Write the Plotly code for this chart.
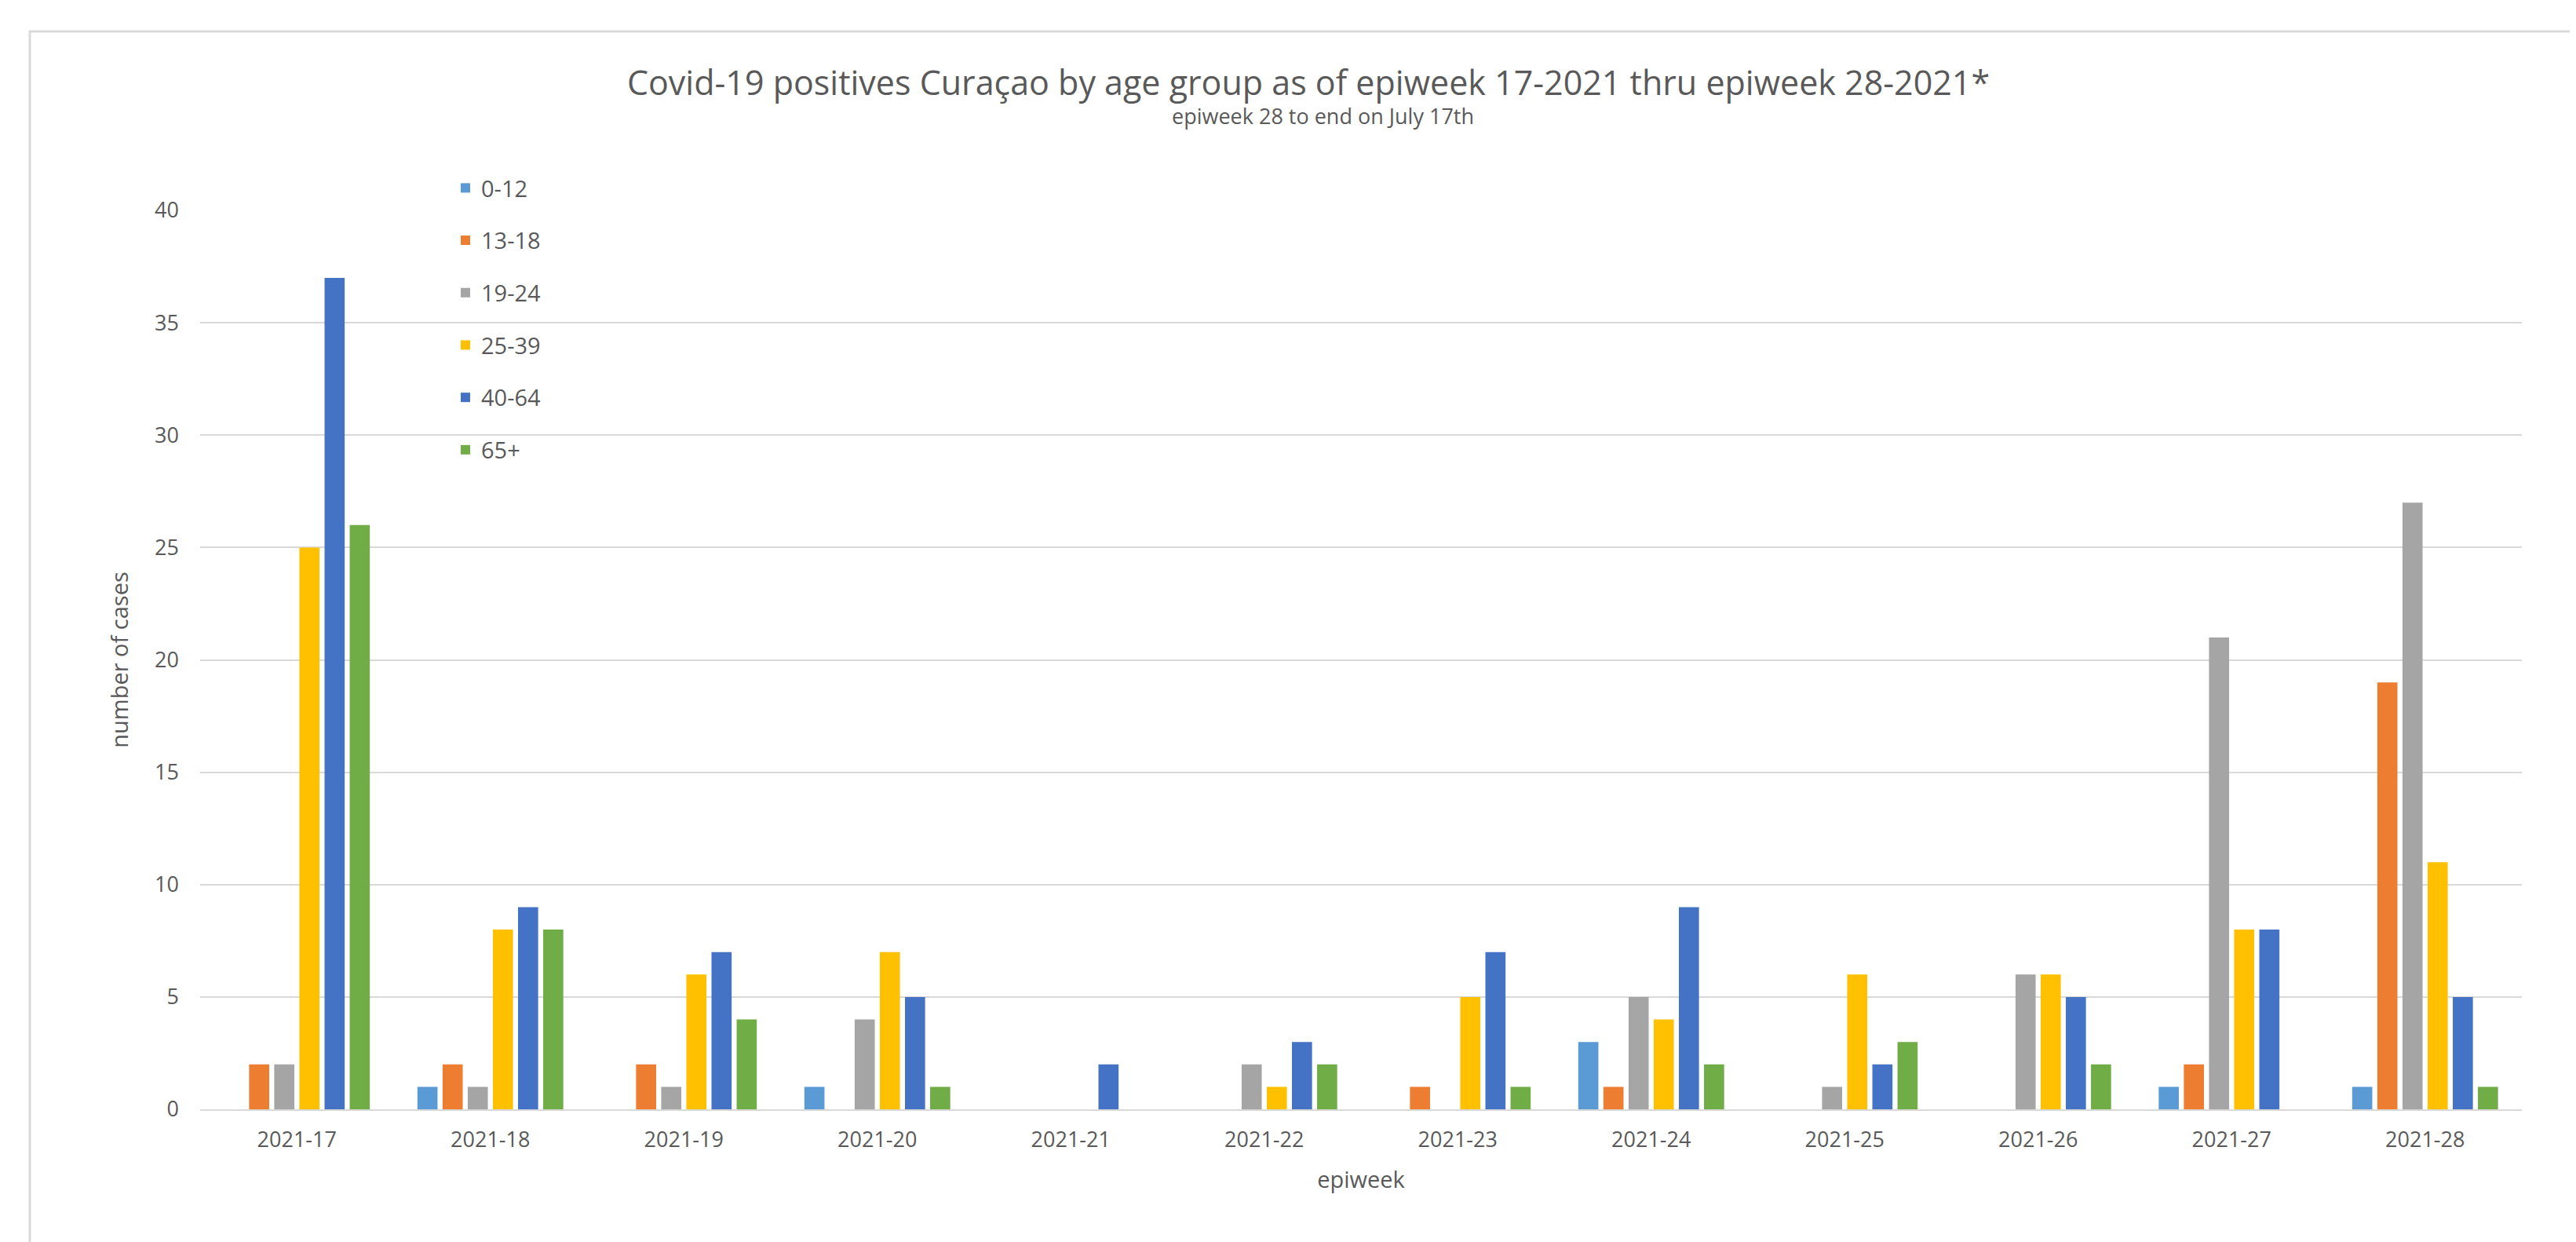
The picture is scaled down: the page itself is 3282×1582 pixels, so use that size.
import plotly.graph_objects as go

weeks = ["2021-17", "2021-18", "2021-19", "2021-20", "2021-21", "2021-22",
         "2021-23", "2021-24", "2021-25", "2021-26", "2021-27", "2021-28"]
age_groups = ["0-12", "13-18", "19-24", "25-39", "40-64", "65+"]
cases_0_12 = [0, 1, 0, 1, 0, 0, 0, 3, 0, 0, 1, 1]
cases_13_18 = [2, 2, 2, 0, 0, 0, 1, 1, 0, 0, 2, 19]
cases_19_24 = [2, 1, 1, 4, 0, 2, 0, 5, 1, 6, 21, 27]
cases_25_39 = [25, 8, 6, 7, 0, 1, 5, 4, 6, 6, 8, 11]
cases_40_64 = [37, 9, 7, 5, 2, 3, 7, 9, 2, 5, 8, 5]
cases_65p = [26, 8, 4, 1, 0, 2, 1, 2, 3, 2, 0, 1]
colors = ["#5B9BD5", "#ED7D31", "#A5A5A5", "#FFC000", "#4472C4", "#70AD47"]
y_ticks = [0, 5, 10, 15, 20, 25, 30, 35, 40]

series = [cases_0_12, cases_13_18, cases_19_24, cases_25_39, cases_40_64, cases_65p]

W, H = 3282, 1582
L, R, T, B = 247, 77, 260, 177
FONT = "Open Sans"
TXT = "#595959"

fig = go.Figure()
for i, (name, vals) in enumerate(zip(age_groups, series)):
    fig.add_trace(go.Bar(x=weeks, y=vals, name=name, marker_color=colors[i],
                         marker_line_width=0, legendgroup=name))

pw = W - L - R
ph = H - T - B
def px_x(p):
    return (p - L) / pw
def px_y(p):
    return (H - B - p) / ph

fig.update_layout(
    width=W, height=H, autosize=False,
    margin=dict(l=L, r=R, t=T, b=B),
    paper_bgcolor="white", plot_bgcolor="white",
    font=dict(family=FONT, color=TXT),
    barmode="group", bargap=0.22, bargroupgap=0.2,
    title=dict(text="Covid-19 positives Curaçao by age group as of epiweek 17-2021 thru epiweek 28-2021*",
               x=1659 / W, xanchor="center", xref="container", y=1 - 98 / H, yanchor="middle",
               font=dict(size=43, color=TXT, family=FONT)),
    xaxis=dict(title=dict(text="epiweek", font=dict(size=29, color=TXT), standoff=24),
               tickfont=dict(size=27, color=TXT), showgrid=False, ticklabelstandoff=14,
               showline=True, linecolor="#D9D9D9", linewidth=2, ticks="", ticklen=0),
    yaxis=dict(title=dict(text="number of cases", font=dict(size=29, color=TXT), standoff=24),
               range=[0, 40], tickvals=y_ticks, tickfont=dict(size=27, color=TXT),
               showgrid=True, gridcolor="#D9D9D9", gridwidth=2, zeroline=False,
               showline=False, ticks="", ticklabelstandoff=26),
    legend=dict(x=px_x(565), y=px_y(206), xanchor="left", yanchor="top",
                font=dict(size=29, color=TXT), bgcolor="rgba(0,0,0,0)",
                tracegroupgap=26, itemwidth=30),
    showlegend=True,
    annotations=[dict(text="epiweek 28 to end on July 17th", x=px_x(1677),
                      xref="paper", y=px_y(140), yref="paper", showarrow=False,
                      font=dict(size=27, color=TXT, family=FONT), yanchor="middle")],
    shapes=[dict(type="rect", xref="paper", yref="paper",
                 x0=px_x(30), x1=px_x(3400), y0=px_y(1700), y1=px_y(32),
                 line=dict(color="#D9D9D9", width=3), fillcolor="rgba(0,0,0,0)", layer="below")],
)

fig.write_html("out.html")
